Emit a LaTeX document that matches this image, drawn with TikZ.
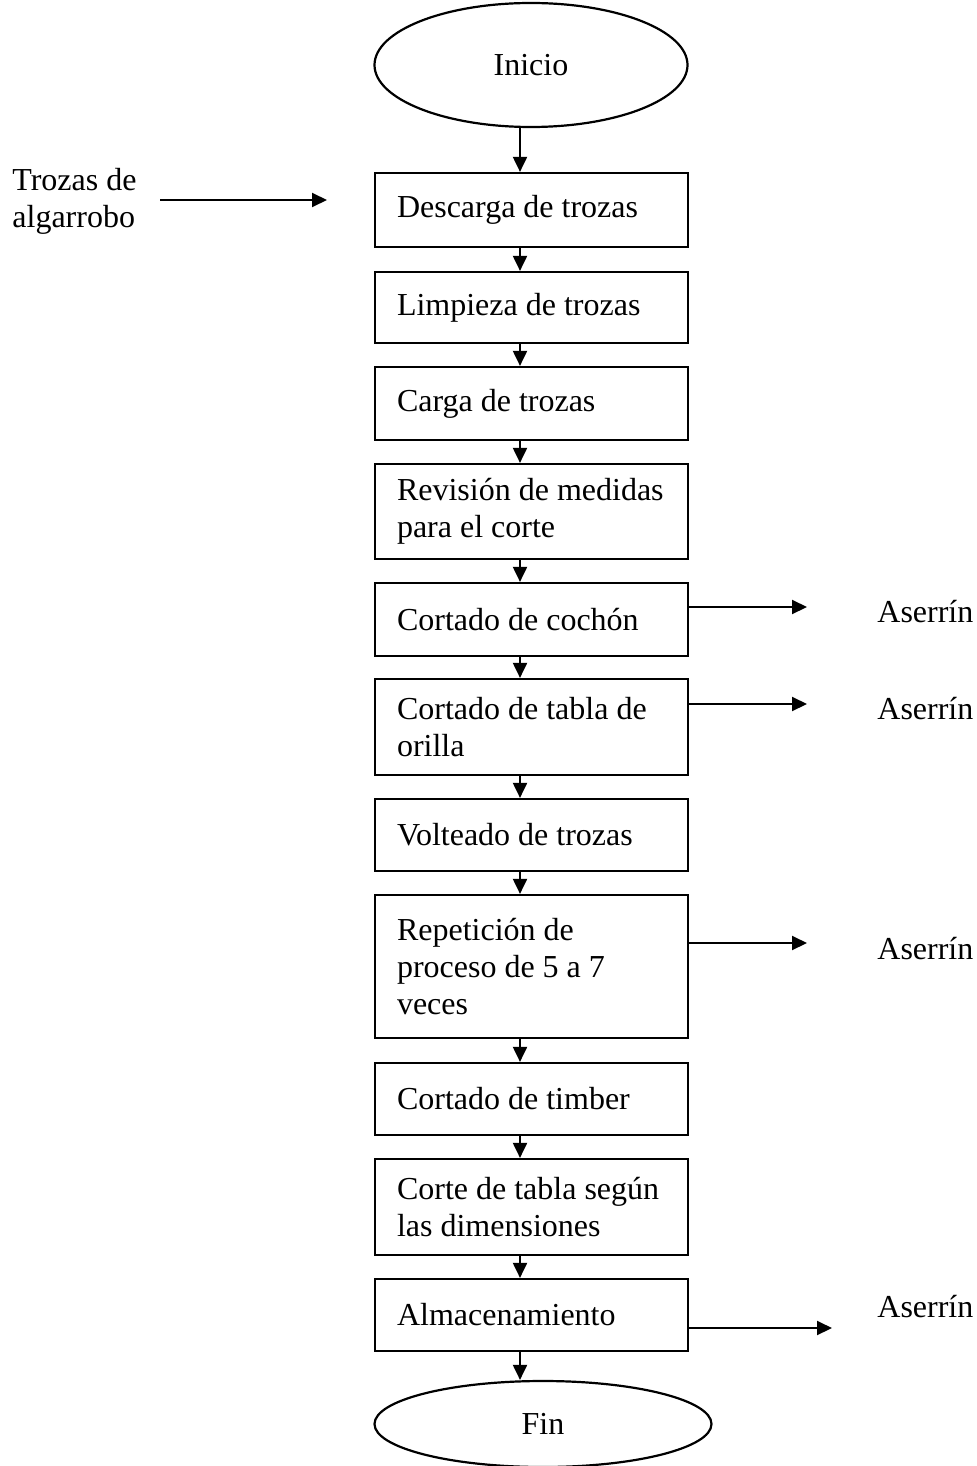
\documentclass[tikz,border=0pt]{standalone}
\usepackage{fontspec}
\setmainfont{Liberation Serif}
\usetikzlibrary{shapes.geometric,arrows.meta}

\begin{document}
\begin{tikzpicture}[x=0.5pt, y=-0.5pt,
    every node/.style={font=\fontsize{16}{18.5}\selectfont},
    caja/.style={draw, line width=1.1pt, text width=134.5pt, inner xsep=11pt, align=left},
    elipse/.style={draw, ellipse, line width=1.1pt, inner sep=0pt},
    texto/.style={inner sep=0pt},
    flecha/.style={line width=1pt, -{Triangle[length=7.5pt,width=7pt]}}]
      \useasboundingbox (0,0) rectangle (977,1466);

      \node[elipse, minimum width=313*0.5pt, minimum height=124*0.5pt] (inicio) at (531,65) {Inicio};

        % Cajas del proceso
        \foreach \n/\y/\h/\txt in {%
          d1/210/74/{Descarga de trozas},
          d2/307.5/71/{Limpieza de trozas},
          d3/403.5/73/{Carga de trozas},
          d4/511.5/95/{Revisión de medidas\\para el corte},
          d5/619.5/73/{Cortado de cochón},
          d6/727/96/{Cortado de tabla de\\orilla},
          d7/835/72/{Volteado de trozas},
          d8/966.5/143/{Repetición de\\proceso de 5 a 7\\veces},
          d9/1099/72/{Cortado de timber},
          d10/1207/96/{Corte de tabla según\\las dimensiones},
          d11/1315/72/{Almacenamiento}} {%
          \node[caja, minimum height=\h*0.5pt] (\n) at (531.5,\y) {\spaceskip=0pt\xspaceskip=0pt\hyphenpenalty=10000 \txt};
        }

      \node[elipse, minimum width=337*0.5pt, minimum height=86*0.5pt] (fin) at (543,1424) {Fin};

        % Flechas verticales
        \coordinate (eje) at (520,0);
        \foreach \a/\b in {inicio/d1, d1/d2, d2/d3, d3/d4, d4/d5, d5/d6, d6/d7, d7/d8, d8/d9, d9/d10, d10/d11, d11/fin} {%
          \draw[flecha] (\a.south -| eje) -- (\b.north -| eje);
        }

      % Entrada
      \node[texto, anchor=west, align=left] (trozas) at (12,201) {Trozas de\\algarrobo};
      \coordinate (e1) at (160,200);
      \coordinate (e2) at (327,200);
      \draw[flecha] (e1) -- (e2);

        % Salidas de aserrín
        \foreach \d/\s/\ys/\xs/\yt in {d5/s1/607/807/612, d6/s2/704/807/709, d8/s3/943/807/949, d11/s4/1328/832/1307} {%
          \coordinate (\s) at (\xs,\ys);
          \node[texto, anchor=west] (a\s) at (877,\yt) {Aserrín};
          \draw[flecha] (\d.east |- \s) -- (\s);
        }
\end{tikzpicture}
\end{document}
